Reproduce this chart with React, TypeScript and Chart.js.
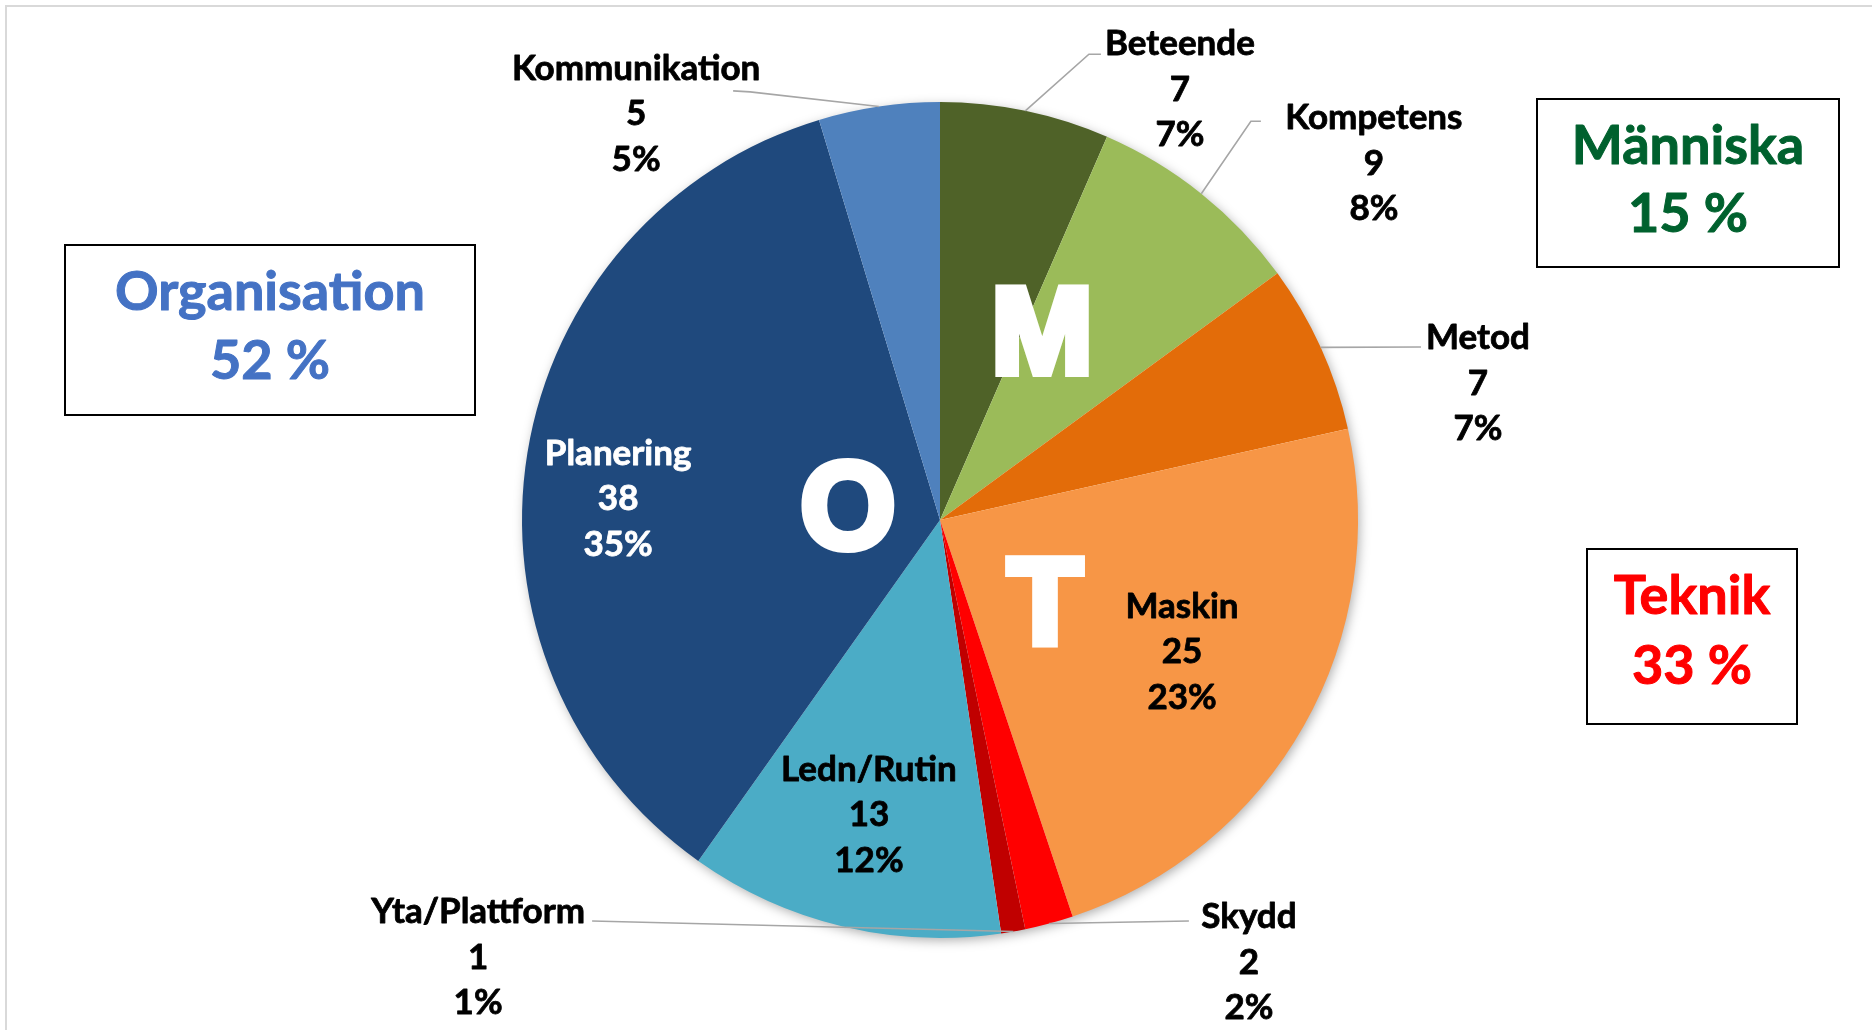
import React, { useEffect, useRef } from "react";
import { Chart, registerables } from "chart.js";

Chart.register(...registerables);

// ---- data ----
const categories = ["Beteende", "Kompetens", "Metod", "Maskin", "Skydd", "Yta/Plattform", "Ledn/Rutin", "Planering", "Kommunikation"];
const counts = [7, 9, 7, 25, 2, 1, 13, 38, 5];
const percentLabels = ["7%", "8%", "7%", "23%", "2%", "1%", "12%", "35%", "5%"];
const sliceColors = ["#4F6228", "#9BBB59", "#E36C09", "#F79646", "#FF0000", "#C00000", "#4BACC6", "#1F497D", "#4F81BD"];
const groupNames = ["Organisation", "Människa", "Teknik"];
const groupPercents = ["52 %", "15 %", "33 %"];
const groupColors = ["#4472C4", "#00612E", "#FF0000"];
const groupLetters = ["O", "M", "T"];

// ---- layout (positions relative to pie centre in radius units, offsets in px) ----
const labelLayout = [
  { ax: 0.574, ay: -1.033, color: "#000", line: [[-91, -34], [-79, -34]] },
  { ax: 1.038, ay: -0.856, color: "#000", line: [[-123, -41], [-113, -41]] },
  { ax: 1.287, ay: -0.330, color: "#000", line: [[-57, -35]] },
  { ax: 0.579, ay: 0.313, color: "#000", line: null },
  { ax: 0.739, ay: 1.055, color: "#000", line: [[-60, -40]] },
  { ax: -1.105, ay: 1.043, color: "#000", line: [[114, -35]] },
  { ax: -0.170, ay: 0.703, color: "#000", line: null },
  { ax: -0.770, ay: -0.053, color: "#fff", line: null },
  { ax: -0.727, ay: -0.974, color: "#000", line: [[114, -21], [97, -22]] },
];
const letterLayout = [
  { ax: -0.220, ay: -0.038 },
  { ax: 0.244, ay: -0.455 },
  { ax: 0.251, ay: 0.191 },
];
const boxLayout = [
  { x: 65, y: 245, w: 410, h: 170, c1: 291, c2: 360 },
  { x: 1537, y: 99, w: 302, h: 168, c1: 145, c2: 213 },
  { x: 1587, y: 549, w: 210, h: 175, c1: 595, c2: 665 },
];

const LABEL_FONT = "Lato, 'Open Sans', sans-serif";
const LABEL_SIZE = 35;
const LINE_GAP = 45.5;
const CAP = 0.7165;

function capText(ctx: CanvasRenderingContext2D, text: string, x: number, cy: number, size: number, weight: number) {
  const y = cy + (CAP * size) / 2;
  ctx.lineWidth = weight;
  ctx.strokeStyle = ctx.fillStyle as string;
  ctx.lineJoin = "round";
  ctx.strokeText(text, x, y);
  ctx.fillText(text, x, y);
}

const overlayPlugin = {
  id: "overlay",
  beforeDatasetsDraw(chart: any) {
    const ctx: CanvasRenderingContext2D = chart.ctx;
    const arcs = chart.getDatasetMeta(0).data;
    if (!arcs.length) return;
    const { x, y, outerRadius } = arcs[0] as any;
    ctx.save();
    ctx.shadowColor = "rgba(0,0,0,0.35)";
    ctx.shadowBlur = 12;
    ctx.shadowOffsetX = 2;
    ctx.shadowOffsetY = 3;
    ctx.beginPath();
    ctx.arc(x, y, outerRadius - 1, 0, Math.PI * 2);
    ctx.fillStyle = "#ffffff";
    ctx.fill();
    ctx.restore();
  },
  afterDatasetsDraw(chart: any) {
    const ctx: CanvasRenderingContext2D = chart.ctx;
    const arcs = chart.getDatasetMeta(0).data;
    if (!arcs.length) return;
    const { x: cx, y: cy, outerRadius: r } = arcs[0] as any;

    ctx.save();
    // chart frame
    ctx.strokeStyle = "#D9D9D9";
    ctx.lineWidth = 2;
    ctx.strokeRect(6, 6, chart.width + 100, chart.height + 100);

    // leader lines
    ctx.strokeStyle = "#A6A6A6";
    ctx.lineWidth = 1.6;
    arcs.forEach((a: any, i: number) => {
      const lay = labelLayout[i];
      if (!lay.line) return;
      const mid = (a.startAngle + a.endAngle) / 2;
      const ax = cx + lay.ax * r;
      const ay = cy + lay.ay * r;
      ctx.beginPath();
      ctx.moveTo(cx + Math.cos(mid) * r, cy + Math.sin(mid) * r);
      lay.line.forEach((p) => ctx.lineTo(ax + p[0], ay + p[1]));
      ctx.stroke();
    });

    // data labels
    ctx.textAlign = "center";
    ctx.textBaseline = "alphabetic";
    ctx.font = `bold ${LABEL_SIZE}px ${LABEL_FONT}`;
    arcs.forEach((_a: any, i: number) => {
      const lay = labelLayout[i];
      const ax = cx + lay.ax * r;
      const ay = cy + lay.ay * r;
      ctx.fillStyle = lay.color;
      capText(ctx, categories[i], ax, ay - LINE_GAP, LABEL_SIZE, 0.8);
      capText(ctx, String(counts[i]), ax, ay, LABEL_SIZE, 0.8);
      capText(ctx, percentLabels[i], ax, ay + LINE_GAP, LABEL_SIZE, 0.8);
    });

    // big letters
    const LS = 122;
    ctx.font = `bold ${LS}px 'Liberation Sans', Arial, sans-serif`;
    ctx.fillStyle = "#ffffff";
    ctx.strokeStyle = "#ffffff";
    ctx.lineWidth = 8;
    ctx.lineJoin = "miter";
    ctx.miterLimit = 1.5;
    letterLayout.forEach((l, i) => {
      const lx = cx + l.ax * r;
      const ly = cy + l.ay * r + 0.716 * LS / 2;
      ctx.strokeText(groupLetters[i], lx, ly);
      ctx.fillText(groupLetters[i], lx, ly);
    });

    // group boxes
    const BS = 54;
    boxLayout.forEach((b, i) => {
      ctx.fillStyle = "#ffffff";
      ctx.fillRect(b.x, b.y, b.w, b.h);
      ctx.strokeStyle = "#000000";
      ctx.lineWidth = 2;
      ctx.lineJoin = "miter";
      ctx.strokeRect(b.x, b.y, b.w, b.h);
      ctx.font = `bold ${BS}px ${LABEL_FONT}`;
      ctx.fillStyle = groupColors[i];
      capText(ctx, groupNames[i], b.x + b.w / 2, b.c1, BS, 1);
      capText(ctx, groupPercents[i], b.x + b.w / 2, b.c2, BS, 1);
    });
    ctx.restore();
  },
};

export default function App() {
  const ref = useRef<HTMLCanvasElement | null>(null);
  useEffect(() => {
    document.body.style.margin = "0";
    if (!ref.current) return;
    const chart = new Chart(ref.current, {
      type: "pie",
      data: {
        labels: categories,
        datasets: [
          {
            data: counts,
            backgroundColor: sliceColors,
            borderWidth: 0,
          },
        ],
      },
      options: {
        animation: false,
        responsive: false,
        maintainAspectRatio: false,
        layout: { padding: { top: 102, bottom: 92, left: 8, right: 0 } },
        plugins: {
          legend: { display: false },
          tooltip: { enabled: false },
        },
      },
      plugins: [overlayPlugin],
    });
    return () => chart.destroy();
  }, []);
  return (
    <div style={{ width: 1872, height: 1030, background: "#ffffff" }}>
      <canvas ref={ref} width={1872} height={1030} style={{ display: "block" }} />
    </div>
  );
}
